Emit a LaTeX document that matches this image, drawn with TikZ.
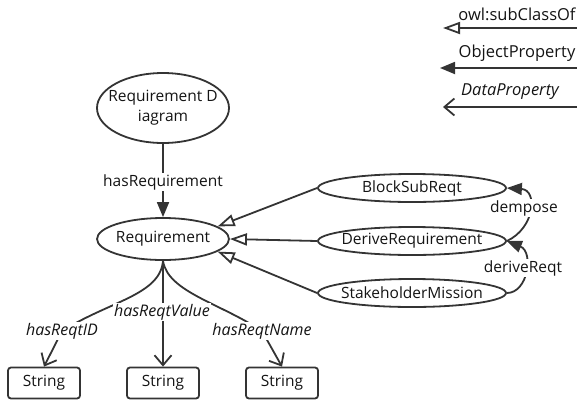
\documentclass[tikz,border=0pt]{standalone}
\usepackage{fontspec}
\setmainfont{Open Sans}
\usetikzlibrary{arrows.meta,shapes.geometric}
\definecolor{lc}{RGB}{52,52,52}
\definecolor{tc}{RGB}{20,20,20}

\tikzset{
  cls/.style={ellipse, draw=lc, line width=1.8pt, inner sep=0pt, text=tc},
  wide/.style={cls, inner xsep=-14pt, minimum width=188pt, minimum height=28pt},
  strbox/.style={draw=lc, line width=1.8pt, rounded corners=3pt, minimum width=72pt,
                 minimum height=31pt, inner sep=0pt, text=tc},
  subarr/.style={draw=lc, line width=1.8pt, -{Triangle[open,length=17pt,width=12pt]}},
  objarr/.style={draw=lc, line width=1.8pt, -{Triangle[length=15pt,width=12pt]}},
  datarr/.style={draw=lc, line width=1.8pt, -{Straight Barb[length=10pt,width=17pt]}},
  lbl/.style={fill=white, inner sep=1pt, text=tc},
  ilbl/.style={lbl, font=\fontsize{16}{19}\selectfont\itshape},
}

\begin{document}
\begin{tikzpicture}[x=1pt, y=-1pt, font=\fontsize{15.5}{20}\selectfont]
\useasboundingbox (0,0) rectangle (577,402);

% legend
\coordinate (k1a) at (577,28);  \coordinate (k1b) at (443,28);
\coordinate (k2a) at (577,68);  \coordinate (k2b) at (440,68);
\coordinate (k3a) at (577,107); \coordinate (k3b) at (443,107);
\draw[subarr] (k1a) -- (k1b);
\draw[objarr] (k2a) -- (k2b);
\draw[datarr] (k3a) -- (k3b);
\node[text=tc, font=\fontsize{16.5}{20}\selectfont] (k1t) at (517,14) {owl:subClassOf};
\node[text=tc, font=\fontsize{16.5}{20}\selectfont] (k2t) at (517,53) {ObjectProperty};
\node[text=tc, font=\fontsize{16.5}{19}\selectfont\itshape] (k3t) at (510,92) {DataProperty};

% classes
\node[cls, inner xsep=-16pt, inner ysep=-6pt, minimum width=132pt, minimum height=70pt,
      align=center] (rd) at (163,108) {Requirement D\\iagram};
\node[cls, inner xsep=-10pt, minimum width=132pt, minimum height=42pt] (req) at (163,239) {Requirement};
\node[wide] (bsr) at (412,188) {BlockSubReqt};
\node[wide] (dr)  at (412,241) {DeriveRequirement};
\node[wide] (sm)  at (412,293) {StakeholderMission};

% datatypes
\node[strbox] (s1) at (44,383)  {String};
\node[strbox] (s2) at (163,383) {String};
\node[strbox] (s3) at (282,383) {String};

% object property
\draw[objarr] (rd) -- (req);
\node[lbl] (hr) at (163,182) {hasRequirement};

% subclass relations
\draw[subarr] (bsr.west) -- (req.13);
\draw[subarr] (dr.west) -- (req.east);
\draw[subarr] (sm.west) -- (req.-13);

% relations between subclasses
\draw[objarr] (dr.east) .. controls (535,228) and (538,190) .. (bsr.east);
\draw[objarr] (sm.east) .. controls (528,293) and (534,252) .. (dr.east);
\node[lbl] (dp) at (524,208) {dempose};
\node[lbl] (dq) at (523,268) {deriveReqt};

% data properties
\coordinate (pid)   at (62,331);
\coordinate (pname) at (262,331);
\draw[datarr] (req.south) .. controls (160,295) and (110,301) .. (pid) -- (s1.north);
\draw[datarr] (req.south) -- (s2.north);
\draw[datarr] (req.south) .. controls (168,292) and (220,303) .. (pname) -- (s3.north);
\node[ilbl] (lid)   at (pid) {hasReqtID};
\node[ilbl] (lval)  at (162,312) {hasReqtValue};
\node[ilbl] (lname) at (pname) {hasReqtName};
\end{tikzpicture}
\end{document}
